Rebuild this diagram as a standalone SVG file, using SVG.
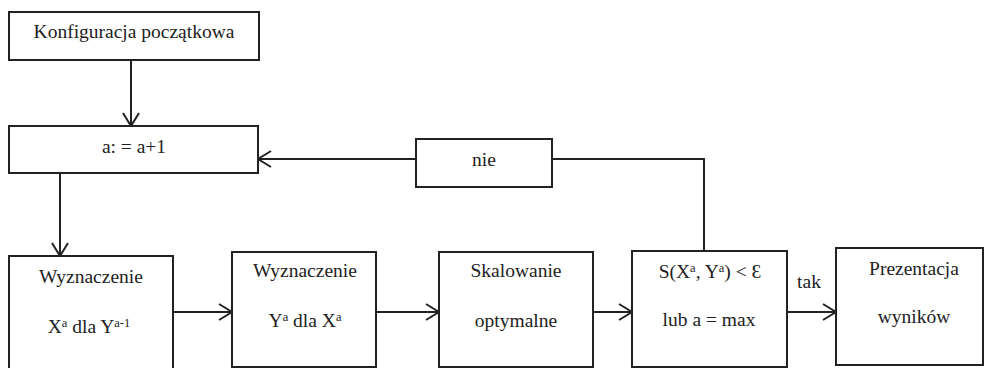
<svg xmlns="http://www.w3.org/2000/svg" width="984" height="368" viewBox="0 0 984 368" font-family="'Liberation Serif', 'Times New Roman', 'DejaVu Serif', serif">
<style>
.box{fill:#fff;stroke:#222;stroke-width:2}
.t{font-family:'Liberation Serif','Times New Roman','DejaVu Serif',serif;font-size:19.5px;fill:#222;text-anchor:middle}
.sup{font-size:12.5px}
.c{fill:none;stroke:#222;stroke-width:2}
</style>
<defs>
<marker id="arr" markerUnits="userSpaceOnUse" markerWidth="16" markerHeight="20" refX="14" refY="9" orient="auto">
<path d="M1,1 L14,9 L1,17" fill="none" stroke="#222" stroke-width="2"/>
</marker>
</defs>
<g id="connectors">
<line class="c" x1="131" y1="60" x2="131" y2="126" marker-end="url(#arr)"/>
<line class="c" x1="60" y1="173" x2="60" y2="256" marker-end="url(#arr)"/>
<line class="c" x1="416" y1="159" x2="258" y2="159" marker-end="url(#arr)"/>
<polyline class="c" points="552,159 704,159 704,251"/>
<line class="c" x1="173" y1="312" x2="232" y2="312" marker-end="url(#arr)"/>
<line class="c" x1="376" y1="312" x2="439" y2="312" marker-end="url(#arr)"/>
<line class="c" x1="593" y1="312" x2="632" y2="312" marker-end="url(#arr)"/>
<line class="c" x1="787" y1="312" x2="836" y2="312" marker-end="url(#arr)"/>
<text class="t" x="809" y="288">tak</text>
</g>
<g id="konfiguracja">
<rect class="box" x="9" y="12" width="250" height="48"/>
<text class="t" x="134" y="38">Konfiguracja początkowa</text>
</g>
<g id="inkrement">
<rect class="box" x="9" y="126" width="249" height="47"/>
<text class="t" x="134" y="153">a: = a+1</text>
</g>
<g id="nie">
<rect class="box" x="416" y="139" width="136" height="48"/>
<text class="t" x="484" y="166">nie</text>
</g>
<g id="wyznaczenie-x">
<rect class="box" x="9" y="256" width="164" height="114"/>
<text class="t" x="91" y="283">Wyznaczenie</text>
<text class="t" x="89" y="333">X<tspan class="sup" dy="-6">a</tspan><tspan dy="6"> dla Y</tspan><tspan class="sup" dy="-6">a-1</tspan></text>
</g>
<g id="wyznaczenie-y">
<rect class="box" x="232" y="252" width="144" height="115"/>
<text class="t" x="305" y="277">Wyznaczenie</text>
<text class="t" x="305" y="327">Y<tspan class="sup" dy="-6">a</tspan><tspan dy="6"> dla X</tspan><tspan class="sup" dy="-6">a</tspan></text>
</g>
<g id="skalowanie">
<rect class="box" x="439" y="252" width="154" height="115"/>
<text class="t" x="516" y="277">Skalowanie</text>
<text class="t" x="516" y="327">optymalne</text>
</g>
<g id="warunek">
<rect class="box" x="632" y="251" width="155" height="116"/>
<text class="t" x="710" y="278">S(X<tspan class="sup" dy="-6">a</tspan><tspan dy="6">, Y</tspan><tspan class="sup" dy="-6">a</tspan><tspan dy="6">) &lt; Ɛ</tspan></text>
<text class="t" x="709" y="326">lub a = max</text>
</g>
<g id="prezentacja">
<rect class="box" x="836" y="248" width="147" height="117"/>
<text class="t" x="914" y="275">Prezentacja</text>
<text class="t" x="914" y="323">wyników</text>
</g>
</svg>
